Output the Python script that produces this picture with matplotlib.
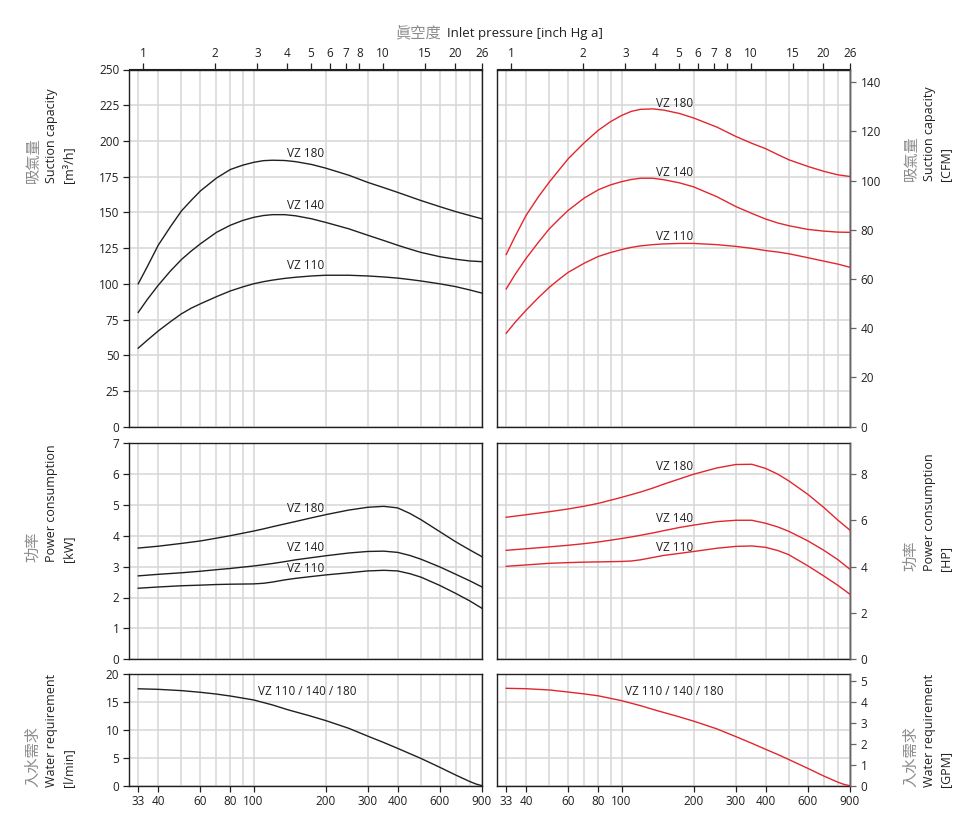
import matplotlib
matplotlib.use("Agg")
import matplotlib.pyplot as plt
from matplotlib.ticker import FixedLocator, NullLocator, MultipleLocator

plt.rcParams['font.family'] = ['Open Sans', 'Noto Sans CJK TC', 'DejaVu Sans']

# ---- data (x = inlet pressure in mbar) ----
x_suction = [33, 36, 40, 45, 50, 55, 60, 70, 80, 90, 100, 110, 120, 135, 150, 175, 200,
             250, 300, 350, 400, 450, 500, 600, 700, 800, 900]
suction_m3h = {
    "VZ 180": [100, 112, 127, 140, 151, 158.5, 165, 174, 180, 183, 185, 186.2, 186.5, 186.3, 185.5, 183.5, 181,
               176, 171, 167.3, 164, 161, 158.3, 154, 150.5, 147.8, 145.5],
    "VZ 140": [80, 89, 99, 109, 117, 123, 128, 136, 141, 144.3, 146.5, 147.8, 148.4, 148.4, 147.6, 145.5, 143,
               138.5, 134, 130.3, 127, 124.3, 122, 119, 117.2, 116, 115.5],
    "VZ 110": [55, 60.5, 67, 73.5, 79, 83, 86, 91, 95, 97.8, 100, 101.5, 102.6, 103.8, 104.6, 105.5, 106,
               106, 105.5, 104.8, 104, 103, 102, 100, 98, 95.7, 93.5],
}
suction_cfm = {
    "VZ 180": [70, 77.5, 86, 93.5, 99.5, 104.5, 109, 115.5, 120.5, 124, 126.5, 128.2, 129, 129.2, 128.7, 127.3, 125.5,
               121.8, 118, 115.2, 113, 110.6, 108.5, 105.8, 103.8, 102.4, 101.7],
    "VZ 140": [56, 62, 68.5, 75, 80.5, 84.5, 88, 93, 96.3, 98.3, 99.6, 100.5, 101, 101, 100.4, 99.1, 97.5,
               93.5, 89.5, 86.7, 84.4, 82.8, 81.7, 80.2, 79.5, 79.1, 79],
    "VZ 110": [38, 42.5, 47.4, 52.5, 56.7, 60, 62.8, 66.5, 69.2, 70.8, 72, 72.9, 73.5, 74, 74.3, 74.5, 74.5,
               74, 73.3, 72.5, 71.6, 71, 70.3, 68.7, 67.3, 66.1, 64.8],
}

x_power = [33, 40, 50, 60, 70, 80, 100, 110, 120, 135, 150, 175, 200, 250, 300, 350, 400, 450, 500,
           600, 700, 800, 900]
power_kw = {
    "VZ 180": [3.6, 3.66, 3.75, 3.83, 3.92, 4.0, 4.15, 4.22, 4.29, 4.38, 4.46, 4.58, 4.68, 4.83, 4.92, 4.95,
               4.9, 4.72, 4.52, 4.13, 3.8, 3.54, 3.32],
    "VZ 140": [2.7, 2.75, 2.8, 2.85, 2.9, 2.94, 3.02, 3.06, 3.1, 3.16, 3.22, 3.29, 3.35, 3.44, 3.49, 3.5,
               3.46, 3.36, 3.24, 2.99, 2.75, 2.54, 2.34],
    "VZ 110": [2.3, 2.34, 2.38, 2.4, 2.42, 2.43, 2.44, 2.46, 2.5, 2.57, 2.62, 2.68, 2.73, 2.8, 2.86, 2.88,
               2.86, 2.77, 2.66, 2.39, 2.13, 1.89, 1.65],
}
power_hp = {
    "VZ 180": [6.14, 6.25, 6.38, 6.5, 6.62, 6.74, 7.0, 7.12, 7.23, 7.4, 7.57, 7.8, 8.0, 8.27, 8.42, 8.43,
               8.25, 8.0, 7.71, 7.13, 6.56, 6.02, 5.58],
    "VZ 140": [4.71, 4.78, 4.86, 4.93, 5.0, 5.07, 5.22, 5.29, 5.36, 5.46, 5.56, 5.7, 5.8, 5.95, 6.01, 6.01,
               5.88, 5.72, 5.53, 5.12, 4.71, 4.31, 3.89],
    "VZ 110": [4.02, 4.08, 4.15, 4.18, 4.2, 4.21, 4.23, 4.25, 4.3, 4.4, 4.49, 4.58, 4.66, 4.8, 4.88, 4.9,
               4.84, 4.7, 4.52, 4.04, 3.6, 3.2, 2.81],
}

x_water = [33, 40, 50, 60, 70, 80, 100, 120, 140, 170, 200, 250, 300, 350, 400, 450, 500, 600, 700,
           800, 850, 900]
water_lmin = [17.4, 17.3, 17.07, 16.77, 16.45, 16.1, 15.4, 14.5, 13.6, 12.6, 11.7, 10.3, 8.9, 7.75, 6.7,
              5.75, 4.9, 3.3, 1.9, 0.75, 0.3, 0]
water_gpm = [4.66, 4.64, 4.58, 4.48, 4.39, 4.3, 4.07, 3.83, 3.6, 3.33, 3.09, 2.72, 2.35, 2.03, 1.74,
             1.49, 1.25, 0.83, 0.46, 0.17, 0.06, 0]

# label positions (x in mbar, y in panel units)
labels_suction_left = {"VZ 180": 191.5, "VZ 140": 155, "VZ 110": 113}
labels_suction_right = {"VZ 180": 131.5, "VZ 140": 103.5, "VZ 110": 77.5}
labels_power_left = {"VZ 180": 4.87, "VZ 140": 3.61, "VZ 110": 2.93}
labels_power_right = {"VZ 180": 8.35, "VZ 140": 6.1, "VZ 110": 4.84}

x_ticks = [33, 40, 60, 80, 100, 200, 300, 400, 600, 900]
x_minor = [50, 70, 90, 500, 700, 800]
inch_ticks = [1, 2, 3, 4, 5, 6, 7, 8, 10, 15, 20, 26]
INHG = 900 / 26.0

X_LO, X_HI = 30.2, 900
BLACK = "#231f20"
RED = "#e3262d"
GRID = "#d6d6d6"
GREY_TXT = "#8c8c8c"
RSPINE = "#6b6464"

fig = plt.figure(figsize=(9.68, 8.16), dpi=100)
W, H = 968.0, 816.0


def rect(x0, y0, x1, y1):
    return [x0 / W, 1 - y1 / H, (x1 - x0) / W, (y1 - y0) / H]


def make_axes(r, ylim, ystep, bottom, top):
    ax = fig.add_axes(r)
    ax.set_xscale('log')
    ax.set_xlim(X_LO, X_HI)
    ax.set_ylim(*ylim)
    ax.xaxis.set_major_locator(FixedLocator(x_ticks))
    ax.xaxis.set_minor_locator(FixedLocator(x_minor))
    ax.set_xticklabels([str(t) for t in x_ticks])
    ax.xaxis.set_minor_formatter(plt.NullFormatter())
    ax.yaxis.set_major_locator(MultipleLocator(ystep))
    ax.grid(True, which='both', color=GRID, lw=1.1)
    ax.set_axisbelow(True)
    ax.tick_params(axis='both', which='major', direction='out', length=4.5, width=0.9,
                   color=BLACK, labelsize=8.5, labelcolor=BLACK, pad=2.5)
    ax.tick_params(axis='x', which='minor', length=0)
    ax.tick_params(axis='x', bottom=bottom, labelbottom=bottom)
    for s in ax.spines.values():
        s.set_color(BLACK)
        s.set_linewidth(1.0)
    if top:
        sec = ax.secondary_xaxis('top', functions=(lambda v: v / INHG, lambda v: v * INHG))
        sec.xaxis.set_major_locator(FixedLocator(inch_ticks))
        sec.xaxis.set_minor_locator(NullLocator())
        sec.set_xticklabels([str(t) for t in inch_ticks])
        sec.tick_params(direction='out', length=4.5, width=0.9, color=BLACK,
                        labelsize=8.5, labelcolor=BLACK, pad=2)
        sec.spines['top'].set_color(BLACK)
    return ax


def make_twin(ax, ylim, ystep):
    tw = ax.twinx()
    # twinx turns the left ticks of the host back on
    ax.tick_params(axis='y', which='both', left=False, labelleft=False, right=False)
    tw.set_ylim(*ylim)
    tw.yaxis.set_major_locator(MultipleLocator(ystep))
    tw.tick_params(axis='y', direction='out', length=4.5, width=0.9, color=RSPINE,
                   labelsize=8.5, labelcolor=BLACK, pad=3)
    for s in tw.spines.values():
        s.set_visible(False)
    tw.spines['right'].set_visible(True)
    tw.spines['right'].set_color(RSPINE)
    tw.spines['right'].set_linewidth(1.0)
    return tw


LX0, LX1 = 129, 482
RX0, RX1 = 497, 850
ROWS = [(69.5, 426.7), (443, 659.3), (674.3, 785.7)]

# --- suction capacity ---
ax1 = make_axes(rect(LX0, ROWS[0][0], LX1, ROWS[0][1]), (0, 250), 25, False, True)
for name, vals in suction_m3h.items():
    ax1.plot(x_suction, vals, color=BLACK, lw=1.0)
    ax1.text(165, labels_suction_left[name], name, ha='center', va='center', fontsize=8.5, color=BLACK)

ax2 = make_axes(rect(RX0, ROWS[0][0], RX1, ROWS[0][1]), (0, 250), 25, False, True)
tw2 = make_twin(ax2, (0, 145.2), 20)
for name, vals in suction_cfm.items():
    tw2.plot(x_suction, vals, color=RED, lw=1.0)
    tw2.text(166, labels_suction_right[name], name, ha='center', va='center', fontsize=8.5, color=BLACK)

# --- power consumption ---
ax3 = make_axes(rect(LX0, ROWS[1][0], LX1, ROWS[1][1]), (0, 7), 1, False, False)
for name, vals in power_kw.items():
    ax3.plot(x_power, vals, color=BLACK, lw=1.0)
    ax3.text(165, labels_power_left[name], name, ha='center', va='center', fontsize=8.5, color=BLACK)

ax4 = make_axes(rect(RX0, ROWS[1][0], RX1, ROWS[1][1]), (0, 7), 1, False, False)
tw4 = make_twin(ax4, (0, 9.35), 2)
for name, vals in power_hp.items():
    tw4.plot(x_power, vals, color=RED, lw=1.0)
    tw4.text(166, labels_power_right[name], name, ha='center', va='center', fontsize=8.5, color=BLACK)

# --- water requirement ---
ax5 = make_axes(rect(LX0, ROWS[2][0], LX1, ROWS[2][1]), (0, 20), 5, True, False)
ax5.plot(x_water, water_lmin, color=BLACK, lw=1.0)
ax5.text(168, 17.0, "VZ 110 / 140 / 180", ha='center', va='center', fontsize=8.5, color=BLACK)

ax6 = make_axes(rect(RX0, ROWS[2][0], RX1, ROWS[2][1]), (0, 20), 5, True, False)
tw6 = make_twin(ax6, (0, 5.33), 1)
tw6.plot(x_water, water_gpm, color=RED, lw=1.0)
tw6.text(166, 4.5, "VZ 110 / 140 / 180", ha='center', va='center', fontsize=8.5, color=BLACK)


# --- side labels ---
def side_label(xs, ybot, cjk, eng, unit):
    fig.text(xs[0] / W, 1 - ybot / H, cjk, rotation=90, ha='center', va='bottom',
             fontsize=11, color=GREY_TXT, family=['Noto Sans CJK TC', 'DejaVu Sans'])
    fig.text(xs[1] / W, 1 - ybot / H, eng, rotation=90, ha='center', va='bottom',
             fontsize=9, color=BLACK)
    fig.text(xs[2] / W, 1 - ybot / H, unit, rotation=90, ha='center', va='bottom',
             fontsize=9, color=BLACK)


LEFT_X = (33, 51, 69)
RIGHT_X = (911, 929, 946)
side_label(LEFT_X, 183, "吸氣量", "Suction capacity", "[m³/h]")
side_label(LEFT_X, 562, "功率", "Power consumption", "[kW]")
side_label(LEFT_X, 787, "入水需求", "Water requirement", "[l/min]")
side_label(RIGHT_X, 181, "吸氣量", "Suction capacity", "[CFM]")
side_label(RIGHT_X, 571, "功率", "Power consumption", "[HP]")
side_label(RIGHT_X, 787, "入水需求", "Water requirement", "[GPM]")

# --- top title ---
fig.text(441 / W, 1 - 33 / H, "眞空度", ha='right', va='center', fontsize=11,
         color=GREY_TXT, family=['Noto Sans CJK TC', 'DejaVu Sans'])
fig.text(447 / W, 1 - 33 / H, "Inlet pressure [inch Hg a]", ha='left', va='center',
         fontsize=9.5, color=BLACK)

fig.savefig("out.png", dpi=100)
